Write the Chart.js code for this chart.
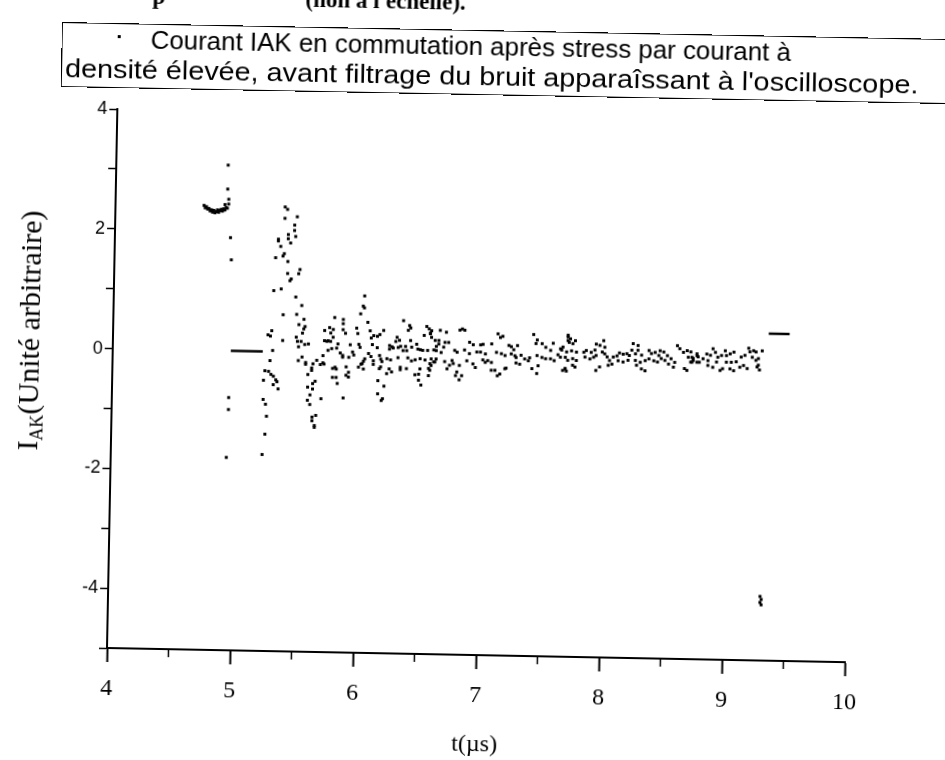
<!DOCTYPE html>
<html>
<head>
<meta charset="utf-8">
<script src="https://cdn.jsdelivr.net/npm/chart.js@4.4.1/dist/chart.umd.min.js"></script>
<style>
  html, body { margin: 0; padding: 0; background: #fff; overflow: hidden; }
  /* the scan is turned about 1 degree clockwise, pivot at the axes corner */
  #page { position: relative; width: 945px; height: 760px; transform: rotate(1.1deg); transform-origin: 107px 648px; }
  #graph { position: absolute; left: 0; top: 0; }
  .heading { position: absolute; top: -17px; font: bold 23px 'Liberation Serif'; white-space: pre; }
  #legendBox { position: absolute; left: 50px; top: 23px; width: 940px; height: 63px; border: 1.5px solid #000; border-right: none; font-family: 'Liberation Sans'; font-size: 25px; }
  .line { position: absolute; white-space: nowrap; line-height: 25px; transform-origin: 0 50%; }
  #dot { position: absolute; left: 55px; top: 11px; width: 3px; height: 3px; background: #000; }
  #ylab { position: absolute; left: 25px; top: 332px; transform: translate(-50%, -50%) rotate(-90deg); font: 30px 'Liberation Serif'; white-space: nowrap; }
  #ylab sub { font-size: 60%; vertical-align: -0.3em; }
</style>
</head>
<body>
<div id="page">
  <canvas id="graph" width="945" height="760"></canvas>
  <div class="heading" style="left: 140px">p</div>
  <div class="heading" style="left: 293px">(non à l'échelle).</div>
  <div id="legendBox">
    <span id="dot"></span>
    <span class="line" id="l1" style="left: 88px; top: 3px">Courant IAK en commutation après stress par courant à</span>
    <span class="line" id="l2" style="left: 3px; top: 33px">densité élevée, avant filtrage du bruit apparaîssant à l'oscilloscope.</span>
  </div>
  <div id="ylab">I<sub>AK</sub>(Unité arbitraire)</div>
</div>
<script>
// before switching: plateau near 2.35 and the fall
const preT = [4.72, 4.73, 4.74, 4.75, 4.76, 4.77, 4.78, 4.79, 4.80, 4.81, 4.82, 4.83, 4.84, 4.85, 4.86, 4.87, 4.88, 4.89, 4.90, 4.91, 4.92, 4.89, 4.92, 4.91, 4.91, 4.94, 4.95, 4.95, 4.95, 4.94]
const preI = [2.42, 2.38, 2.40, 2.36, 2.37, 2.33, 2.35, 2.31, 2.34, 2.30, 2.32, 2.35, 2.31, 2.34, 2.36, 2.33, 2.37, 2.35, 2.39, 2.38, 2.45, 2.44, 2.53, 2.70, 3.10, 1.89, 1.52, -0.78, -0.98, -1.78]

// first ringing after the flat part
const ringT = [5.38, 5.40, 5.48, 5.38, 5.46, 5.46, 5.33, 5.41, 5.47, 5.33, 5.41, 5.43, 5.35, 5.38, 5.37, 5.31, 5.41, 5.51, 5.50, 5.41, 5.44, 5.43, 5.36, 5.30, 5.48,
  5.53, 5.38, 5.49, 5.55, 5.51, 5.56, 5.55, 5.54, 5.29, 5.26, 5.28, 5.38, 5.49, 5.50, 5.53, 5.56, 5.59, 5.51, 5.30, 5.28, 5.51, 5.54, 5.57, 5.57, 5.62, 5.62, 5.59,
  5.24, 5.27, 5.29, 5.31, 5.23, 5.33, 5.34, 5.31, 5.35, 5.65, 5.63, 5.59, 5.63, 5.61, 5.59, 5.61, 5.23, 5.25, 5.26, 5.66, 5.63, 5.63, 5.65, 5.65, 5.25, 5.23]
const ringI = [2.42, 2.38, 2.26, 2.23, 2.12, 2.03, 1.88, 1.96, 1.93, 1.85, 1.89, 1.82, 1.76, 1.64, 1.60, 1.57, 1.51, 1.38, 1.31, 1.31, 1.22, 1.19, 1.05, 1.02, 0.92,
  0.78, 0.62, 0.63, 0.55, 0.46, 0.43, 0.39, 0.32, 0.35, 0.28, 0.26, 0.19, 0.25, 0.18, 0.18, 0.13, 0.14, 0.09, 0.02, -0.15, -0.14, -0.08, -0.17, -0.20, -0.26, -0.30, -0.37,
  -0.32, -0.33, -0.38, -0.41, -0.48, -0.47, -0.50, -0.55, -0.62, -0.48, -0.52, -0.58, -0.61, -0.71, -0.80, -0.87, -0.80, -0.88, -1.08, -1.05, -1.08, -1.14, -1.22, -1.25, -1.38, -1.72]

// damped noise, 5.6 to 6.7 us
const midT = [6.04, 6.03, 6.04, 6.01, 5.80, 5.87, 5.87, 6.07, 6.36, 6.41, 6.42, 6.40, 6.55, 6.57, 5.72, 5.76, 5.79, 5.77, 5.87, 5.89, 5.98, 5.99, 6.09, 6.20,
  5.72, 5.74, 5.77, 5.75, 5.79, 6.10, 6.12, 6.15, 6.17, 6.31, 6.30, 6.33, 6.42, 6.47, 6.43, 6.53, 6.58, 6.59, 6.65, 6.63, 5.83, 5.82, 5.93, 6.00, 6.01, 6.11,
  6.15, 6.25, 6.27, 6.28, 6.25, 6.32, 6.34, 6.38, 6.36, 6.39, 6.48, 6.50, 6.52, 6.56, 6.61, 5.71, 5.75, 5.78, 5.85, 5.87, 5.87, 5.95, 5.96, 5.92, 6.08, 6.10,
  6.05, 6.04, 6.17, 6.18, 6.19, 6.23, 6.26, 6.32, 6.40, 6.43, 6.46, 6.50, 6.54, 6.63, 6.61, 6.59, 5.66, 5.63, 5.71, 5.69, 5.72, 5.81, 5.82, 5.79, 5.90, 5.92,
  5.90, 5.92, 6.00, 6.02, 6.04, 6.03, 6.12, 6.12, 6.17, 6.18, 6.25, 6.27, 6.23, 6.34, 6.34, 6.39, 6.46, 6.49, 6.50, 6.58, 6.57, 6.57, 5.79, 5.82, 5.83, 5.88,
  6.16, 6.21, 6.16, 6.20, 6.19, 6.49, 6.51, 5.70]
const midI = [0.96, 0.79, 0.76, 0.66, 0.59, 0.56, 0.49, 0.52, 0.56, 0.48, 0.44, 0.40, 0.47, 0.43, 0.37, 0.42, 0.39, 0.33, 0.39, 0.33, 0.42, 0.33, 0.38, 0.39,
  0.20, 0.19, 0.19, 0.20, 0.26, 0.26, 0.30, 0.29, 0.32, 0.28, 0.21, 0.23, 0.23, 0.17, 0.12, 0.32, 0.36, 0.29, 0.24, 0.14, 0.15, 0.08, 0.14, 0.15, 0.10, 0.15,
  0.10, 0.14, 0.12, 0.10, 0.08, 0.11, 0.13, 0.13, 0.06, 0.06, 0.09, 0.08, 0.07, 0.07, 0.08, -0.05, 0.04, 0.07, 0.00, -0.04, -0.07, 0.02, -0.03, -0.07, 0.00, -0.05,
  -0.09, -0.13, -0.03, -0.09, -0.13, -0.08, -0.10, -0.06, -0.06, -0.11, -0.09, -0.07, -0.09, -0.07, -0.12, -0.18, -0.13, -0.19, -0.17, -0.20, -0.19, -0.24, -0.27, -0.26, -0.23, -0.32,
  -0.37, -0.40, -0.23, -0.18, -0.26, -0.17, -0.12, -0.18, -0.25, -0.22, -0.25, -0.30, -0.33, -0.22, -0.26, -0.24, -0.34, -0.33, -0.24, -0.15, -0.23, -0.35, -0.41, -0.41, -0.51, -0.75,
  -0.45, -0.54, -0.67, -0.75, -0.78, -0.43, -0.51, -0.77]

// 6.6 to 7.7 us
const lateT = [6.59, 6.58, 6.66, 6.71, 6.82, 6.84, 6.86, 6.90, 6.93, 6.99, 7.01, 7.08, 7.13, 7.15, 7.17, 7.22, 7.24, 7.26, 7.29, 7.42, 7.45, 7.44, 7.49, 7.52,
  7.56, 7.58, 7.65, 7.70, 7.70, 6.62, 6.65, 6.69, 6.63, 6.67, 6.70, 6.73, 6.78, 6.80, 6.86, 6.90, 6.88, 6.96, 6.99, 7.03, 7.01, 7.05, 7.08, 7.03, 7.12, 7.16,
  7.19, 7.24, 7.27, 7.28, 7.32, 7.35, 7.38, 7.39, 7.45, 7.49, 7.52, 7.56, 7.59, 7.62, 7.64, 6.59, 6.62, 6.58, 6.70, 6.72, 6.74, 6.76, 6.77, 6.82, 6.93, 6.95,
  7.08, 7.11, 7.19, 7.20, 7.13, 7.15, 7.28, 7.31, 7.41, 7.46, 7.45, 7.68, 7.69, 6.80, 6.79, 6.84, 6.82]
const lateI = [0.40, 0.35, 0.41, 0.38, 0.42, 0.44, 0.42, 0.22, 0.18, 0.18, 0.19, 0.20, 0.37, 0.31, 0.33, 0.18, 0.16, 0.11, 0.18, 0.37, 0.28, 0.22, 0.22, 0.16,
  0.11, 0.23, 0.12, 0.34, 0.28, 0.24, 0.18, 0.13, 0.07, 0.04, 0.21, 0.21, 0.08, 0.05, 0.09, 0.03, -0.09, 0.06, 0.06, 0.03, -0.07, -0.08, -0.11, -0.11, 0.06, 0.04,
  0.01, 0.04, 0.01, -0.02, 0.02, -0.04, -0.07, -0.02, 0.02, -0.01, -0.03, -0.03, -0.06, 0.04, 0.00, -0.07, -0.12, -0.26, -0.11, -0.23, -0.17, -0.09, -0.14, -0.17, -0.14, -0.20,
  -0.24, -0.24, -0.21, -0.20, -0.33, -0.30, -0.11, -0.13, -0.20, -0.15, -0.28, -0.19, -0.23, -0.28, -0.34, -0.34, -0.41]

// 7.6 to 9.3 us
const tailT = [7.70, 7.72, 7.71, 7.76, 7.74, 7.64, 7.66, 7.69, 7.73, 7.77, 7.68, 7.70, 7.74, 7.77, 7.66, 7.68, 7.74, 7.76, 7.83, 7.85, 7.89, 7.92, 7.84, 7.88,
  7.91, 7.93, 7.93, 7.99, 7.96, 8.00, 7.98, 8.00, 8.02, 8.04, 8.07, 8.10, 7.93, 7.96, 8.03, 8.06, 8.12, 8.15, 8.18, 8.20, 8.11, 8.15, 8.19, 8.23, 8.27, 8.22,
  8.25, 8.27, 8.30, 8.25, 8.29, 8.33, 8.26, 8.30, 8.33, 8.36, 8.38, 8.41, 8.44, 8.36, 8.40, 8.43, 8.45, 8.48, 8.51, 8.46, 8.49, 8.52, 8.54, 8.57, 8.56, 8.59,
  8.61, 8.64, 8.67, 8.68, 8.72, 8.75, 8.65, 8.67, 8.71, 8.75, 8.70, 8.71, 8.72, 8.70, 8.75, 8.76, 8.77, 8.80, 8.83, 8.84, 8.86, 8.88, 8.90, 8.84, 8.88, 8.91,
  8.92, 8.95, 8.98, 8.94, 8.96, 8.99, 9.02, 9.05, 8.99, 9.03, 9.07, 9.02, 9.05, 9.10, 9.13, 9.16, 9.11, 9.14, 9.17, 9.18, 9.21, 9.23, 9.28, 9.20, 9.23, 9.25,
  9.24, 9.26, 9.25]
const tailI = [0.37, 0.31, 0.25, 0.28, 0.23, 0.14, 0.17, 0.09, 0.11, 0.09, 0.00, -0.05, -0.02, -0.05, -0.22, -0.19, -0.13, -0.16, 0.09, 0.12, 0.09, 0.13, 0.01, -0.02,
  0.01, 0.04, 0.23, 0.29, 0.21, 0.18, 0.10, 0.07, 0.02, -0.04, 0.02, 0.04, -0.21, -0.15, -0.12, -0.10, 0.09, 0.07, 0.08, 0.05, -0.04, -0.06, -0.03, 0.25, 0.22, 0.14,
  0.08, 0.14, 0.06, -0.03, -0.06, -0.03, -0.11, -0.17, -0.20, 0.14, 0.09, 0.11, 0.06, 0.00, -0.03, -0.05, 0.14, 0.12, 0.06, 0.01, -0.02, -0.08, 0.01, -0.05, -0.13, 0.23,
  0.18, 0.12, 0.15, 0.04, 0.02, 0.07, -0.15, -0.18, -0.04, -0.04, 0.13, 0.04, -0.01, -0.04, 0.10, 0.05, -0.04, 0.02, 0.10, -0.01, 0.08, 0.19, 0.13, -0.09, -0.12, -0.03,
  0.05, 0.08, 0.16, -0.17, -0.14, 0.08, 0.11, 0.14, -0.03, -0.03, -0.02, -0.14, -0.17, -0.11, -0.08, -0.13, 0.06, 0.09, 0.21, 0.15, 0.17, 0.15, 0.17, 0.06, 0.01, 0.04,
  -0.10, -0.15, -0.07]

// isolated glitch near -4
const spikeT = [9.30, 9.31, 9.30, 9.31]
const spikeI = [-3.93, -3.98, -4.03, -4.07]

// the two flat segments (drawn as short lines)
const flatLowT = [4.96, 5.22]
const flatLowI = [0, 0]
const flatHighT = [9.33, 9.50]
const flatHighI = [0.46, 0.46]

const toPoints = (ts, is) => ts.map((t, k) => ({ x: t, y: is[k] }))

const dotStyle = {
  pointStyle: 'rect',
  pointRadius: 2.1,
  pointBorderWidth: 0,
  backgroundColor: '#000',
  borderColor: '#000',
  showLine: false,
}
const dashStyle = {
  showLine: true,
  pointRadius: 0,
  borderColor: '#000',
  borderWidth: 2.5,
}

// short half-unit ticks under the x axis
const halfTicks = {
  id: 'halfTicks',
  afterDraw(chart) {
    const xs = chart.scales.x
    const c = chart.ctx
    c.save()
    c.strokeStyle = '#000'
    c.lineWidth = 1.5
    for (let v = 4.5; v < 10; v += 1) {
      const px = xs.getPixelForValue(v)
      c.beginPath()
      c.moveTo(px, xs.top)
      c.lineTo(px, xs.top + 8)
      c.stroke()
    }
    c.restore()
  },
}

new Chart(document.getElementById('graph'), {
  type: 'scatter',
  data: {
    datasets: [
      { data: toPoints(preT, preI), ...dotStyle },
      { data: toPoints(ringT, ringI), ...dotStyle },
      { data: toPoints(midT, midI), ...dotStyle },
      { data: toPoints(lateT, lateI), ...dotStyle },
      { data: toPoints(tailT, tailI), ...dotStyle },
      { data: toPoints(spikeT, spikeI), ...dotStyle },
      { data: toPoints(flatLowT, flatLowI), ...dashStyle },
      { data: toPoints(flatHighT, flatHighI), ...dashStyle },
    ],
  },
  options: {
    responsive: false,
    animation: false,
    layout: { padding: { top: 109, right: 100, left: 0, bottom: 0 } },
    plugins: { legend: { display: false }, tooltip: { enabled: false } },
    scales: {
      x: {
        type: 'linear',
        min: 4,
        max: 10,
        afterFit: (s) => { s.height = 112 },
        border: { color: '#000', width: 2 },
        grid: {
          drawOnChartArea: false,
          tickLength: 14,
          tickWidth: 2,
          tickColor: (c) => (Number.isInteger(c.tick.value) ? '#000' : 'rgba(0,0,0,0)'),
        },
        ticks: {
          stepSize: 0.5,
          autoSkip: false,
          maxRotation: 0,
          padding: 12,
          color: '#000',
          font: { family: 'Liberation Serif', size: 24 },
          callback: (v) => (Number.isInteger(v) ? String(v) : ''),
        },
        title: {
          display: true,
          text: 't(µs)',
          color: '#000',
          font: { family: 'Liberation Serif', size: 24 },
          padding: { top: 0, bottom: 8 },
        },
      },
      y: {
        min: -5,
        max: 4,
        afterFit: (s) => { s.width = 107 },
        border: { color: '#000', width: 2 },
        grid: { drawOnChartArea: false, tickLength: 8, tickWidth: 1.5, tickColor: '#000' },
        ticks: {
          stepSize: 1,
          autoSkip: false,
          padding: 2,
          color: '#000',
          font: { family: 'Liberation Sans', size: 18 },
          callback: (v) => (v % 2 === 0 && v > -5 ? String(v) : ''),
        },
      },
    },
  },
  plugins: [halfTicks],
})

// stretch the legend lines to the widths seen on the scan
const fitLine = (id, w) => {
  const el = document.getElementById(id)
  el.style.transform = 'scaleX(' + (w / el.offsetWidth) + ')'
}
fitLine('l1', 640)
fitLine('l2', 853)
</script>
</body>
</html>
